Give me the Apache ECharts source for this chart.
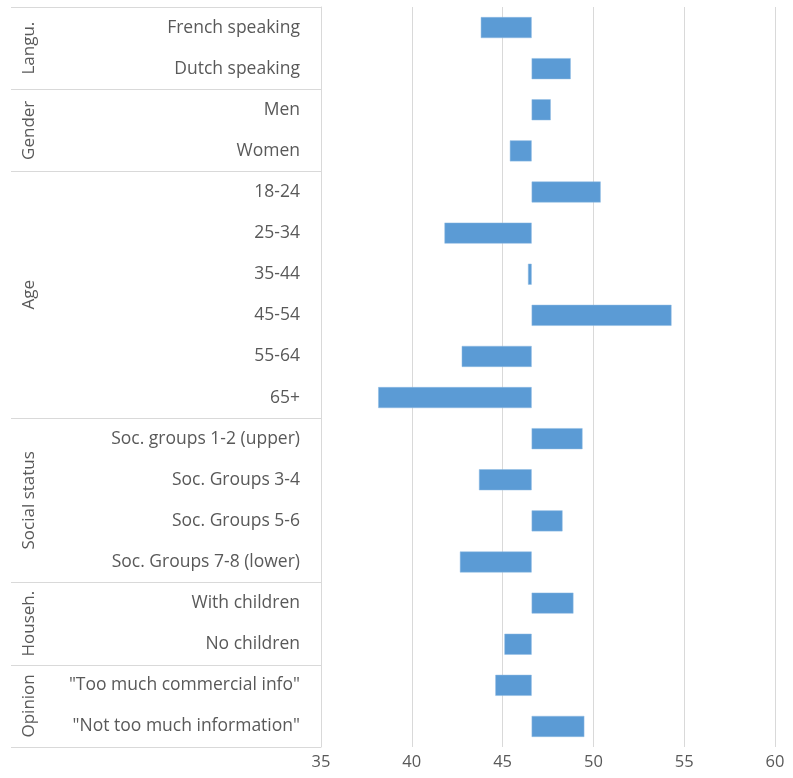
<!DOCTYPE html>
<html>
<head>
<meta charset="utf-8">
<script src="https://cdn.jsdelivr.net/npm/echarts@6/dist/echarts.min.js"></script>
<style>html,body{margin:0;padding:0;background:#fff;}#chart{width:793px;height:778px;}</style>
</head>
<body>
<div id="chart"></div>
<script>
const categories = ['French speaking','Dutch speaking','Men','Women','18-24','25-34','35-44','45-54','55-64','65+','Soc. groups 1-2 (upper)','Soc. Groups 3-4','Soc. Groups 5-6','Soc. Groups 7-8 (lower)','With children','No children','"Too much commercial info"','"Not too much information"'];
const values = [43.8, 48.75, 47.65, 45.4, 50.4, 41.8, 46.4, 54.3, 42.75, 38.15, 49.4, 43.7, 48.3, 42.65, 48.9, 45.1, 44.6, 49.5];
const baseline = 46.6;
const groupNames = ['Langu.','Gender','Age','Social status','Househ.','Opinion'];
const groupSizes = [2, 2, 6, 4, 2, 2];
const xMin = 35, xMax = 60, xStep = 5;

const FONT = '"Open Sans", sans-serif';
const TXT = '#595959';
const LINE = '#d9d9d9';

const baseData = values.map(v => Math.min(v, baseline));
const diffData = values.map(v => Math.abs(v - baseline));

const boundaries = [0];
const centers = [];
const centerName = {};
groupSizes.forEach((s, i) => {
  const start = boundaries[boundaries.length - 1];
  const c = start + s / 2;
  centers.push(c);
  centerName[c] = groupNames[i];
  boundaries.push(start + s);
});

const chart = echarts.init(document.getElementById('chart'));
chart.setOption({
  animation: false,
  grid: { left: 321, right: 18, top: 7, bottom: 31, containLabel: false, outerBoundsMode: 'none' },
  xAxis: {
    type: 'value', min: xMin, max: xMax, interval: xStep,
    axisLine: { show: false }, axisTick: { show: false },
    splitLine: { show: true, lineStyle: { color: LINE, width: 1 } },
    axisLabel: { color: TXT, fontSize: 16.5, fontFamily: FONT, margin: 7 }
  },
  yAxis: [
    {
      type: 'category', data: categories, inverse: true,
      axisLine: { show: true, lineStyle: { color: LINE, width: 1 } },
      axisTick: { show: false },
      splitLine: { show: false },
      axisLabel: { color: TXT, fontSize: 17.5, fontFamily: FONT, margin: 21 }
    },
    {
      type: 'value', min: 0, max: categories.length, inverse: true, position: 'left',
      axisLine: { show: false },
      splitLine: { show: false },
      axisTick: { show: true, customValues: boundaries, length: 310, inside: false, lineStyle: { color: LINE, width: 1 } },
      axisLabel: { customValues: centers, formatter: v => centerName[v] || '', rotate: 90, margin: 283, color: TXT, fontSize: 17, fontFamily: FONT }
    }
  ],
  series: [
    { type: 'bar', stack: 'a', yAxisIndex: 0, data: baseData, itemStyle: { color: 'rgba(0,0,0,0)' }, barWidth: '51%', silent: true },
    { type: 'bar', stack: 'a', yAxisIndex: 0, data: diffData, itemStyle: { color: '#5B9BD5', borderColor: '#8fbbe3', borderWidth: 0.5 }, barWidth: '51%', silent: true }
  ]
});
</script>
</body>
</html>
